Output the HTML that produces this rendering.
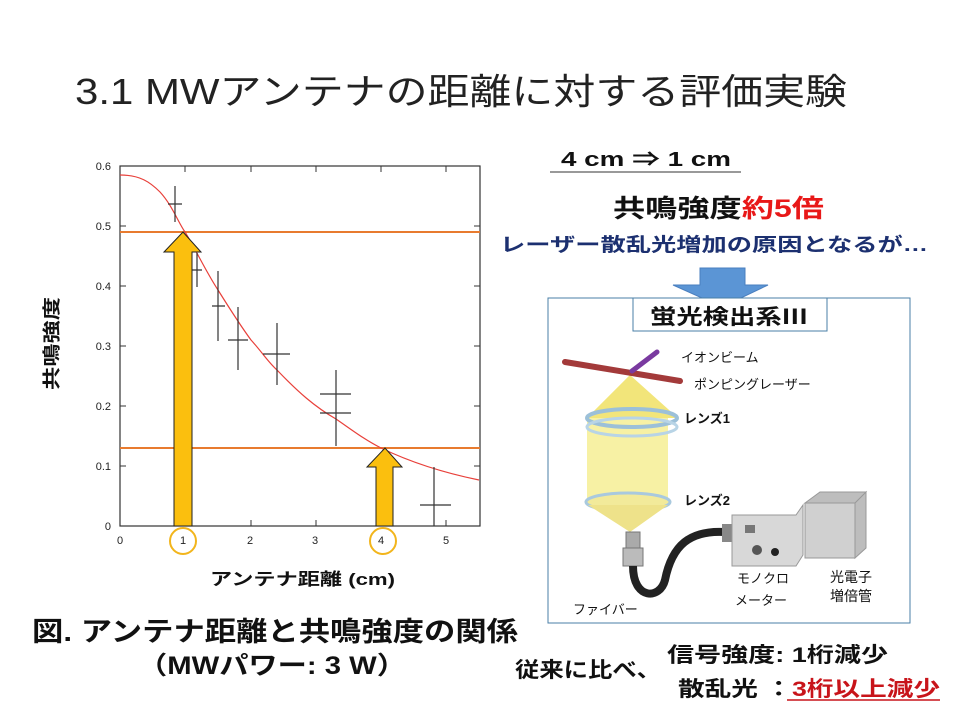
<!DOCTYPE html>
<html><head><meta charset="utf-8"><style>
html,body{margin:0;padding:0;background:#fff}
svg text{font-family:"Liberation Sans","Noto Sans CJK JP",sans-serif}
</style></head><body>
<svg width="960" height="720" viewBox="0 0 960 720" xmlns="http://www.w3.org/2000/svg">
<rect width="960" height="720" fill="#fff"/>
<text x="75" y="104" font-size="36" fill="#222" textLength="772" lengthAdjust="spacingAndGlyphs">3.1  MWアンテナの距離に対する評価実験</text>

<rect x="120" y="166" width="360" height="360" fill="none" stroke="#333" stroke-width="1.2"/>
<g stroke="#333" stroke-width="1">
<path d="M120 226h6M120 286h6M120 346h6M120 406h6M120 466h6M480 226h-6M480 286h-6M480 346h-6M480 406h-6M480 466h-6"/>
<path d="M185 526v-6M251 526v-6M316 526v-6M381 526v-6M446 526v-6M185 166v6M251 166v6M316 166v6M381 166v6M446 166v6"/>
</g>
<g font-size="11" fill="#222" text-anchor="end">
<text x="111" y="170">0.6</text><text x="111" y="230">0.5</text><text x="111" y="290">0.4</text>
<text x="111" y="350">0.3</text><text x="111" y="410">0.2</text><text x="111" y="470">0.1</text><text x="111" y="530">0</text>
</g>
<g font-size="11" fill="#222" text-anchor="middle">
<text x="120" y="544">0</text><text x="183" y="544">1</text><text x="250" y="544">2</text><text x="315" y="544">3</text><text x="381" y="544">4</text><text x="446" y="544">5</text>
</g>
<line x1="120" y1="232" x2="480" y2="232" stroke="#e87b2f" stroke-width="2"/>
<line x1="120" y1="448" x2="480" y2="448" stroke="#e87b2f" stroke-width="2"/>
<path d="M120 175 C140 175 150 182 160 192 C172 205 178 222 185 232 C195 248 205 270 218 290 C228 306 240 325 251 340 C262 352 268 362 277 370 C298 392 315 407 336 419 C352 430 365 440 381 448 C410 462 440 472 479 480" fill="none" stroke="#e8403a" stroke-width="1.2"/>
<g stroke="#333" stroke-width="1.2" fill="none">
<path d="M175 186v36M168 204h14"/>
<path d="M197 253v34M192 270h10"/>
<path d="M218 271v70M212 306h13"/>
<path d="M238 307v63M228 340h20"/>
<path d="M277 323v62M263 354h27"/>
<path d="M336 370v76M320 394h31M320 413h31"/>
<path d="M434 467v59M420 505h31"/>
</g>
<path d="M174 526V252H164L183 232L201 252H192V526Z" fill="#fbbf0e" stroke="#222" stroke-width="1"/>
<path d="M376 526V467H367L385 448L402 467H393V526Z" fill="#fbbf0e" stroke="#222" stroke-width="1"/>
<circle cx="183" cy="541" r="13" fill="none" stroke="#f2b51c" stroke-width="2"/>
<circle cx="383" cy="541" r="13" fill="none" stroke="#f2b51c" stroke-width="2"/>
<text x="210" y="585" font-size="17" font-weight="bold" fill="#111" textLength="185" lengthAdjust="spacingAndGlyphs">アンテナ距離 (cm)</text>
<text transform="translate(58,390) rotate(-90)" font-size="18" font-weight="bold" fill="#111" textLength="93" lengthAdjust="spacingAndGlyphs">共鳴強度</text>

<text x="32" y="641" font-size="27" font-weight="bold" fill="#111" textLength="486" lengthAdjust="spacingAndGlyphs">図. アンテナ距離と共鳴強度の関係</text>
<text x="138" y="674" font-size="25" font-weight="bold" fill="#111" textLength="268" lengthAdjust="spacingAndGlyphs">（MWパワー: 3 W）</text>

<text x="561" y="166" font-size="20" font-weight="bold" fill="#111" textLength="170" lengthAdjust="spacingAndGlyphs">4 cm ⇒ 1 cm</text>
<line x1="550" y1="172" x2="741" y2="172" stroke="#333" stroke-width="1"/>
<text x="613" y="217" font-size="25" font-weight="bold" fill="#111" textLength="211" lengthAdjust="spacingAndGlyphs">共鳴強度<tspan fill="#e81818">約5倍</tspan></text>
<text x="500" y="251" font-size="19" font-weight="bold" fill="#1c3070" textLength="428" lengthAdjust="spacingAndGlyphs">レーザー散乱光増加の原因となるが…</text>
<path d="M700 268H745V285H768L722 307L673 285H700Z" fill="#5b95d5" stroke="#4a7fbf" stroke-width="1"/>

<rect x="548" y="298" width="362" height="325" fill="none" stroke="#4a7fa7" stroke-width="1"/>
<rect x="633" y="298" width="194" height="33" fill="#fff" stroke="#4a7fa7" stroke-width="1"/>
<text x="650" y="324" font-size="21" font-weight="bold" fill="#111" textLength="158" lengthAdjust="spacingAndGlyphs">蛍光検出系Ⅲ</text>

<path d="M630 375L587 418V502L632 523L668 502V418Z" fill="#f6f09a" opacity="0.9"/>
<path d="M630 375L587 418H678Z" fill="#f2e57a"/>
<ellipse cx="632" cy="418" rx="45" ry="9" fill="none" stroke="#9cc0d8" stroke-width="4"/>
<ellipse cx="632" cy="427" rx="45" ry="9" fill="none" stroke="#b8d4e6" stroke-width="3"/>
<ellipse cx="628" cy="502" rx="42" ry="9" fill="#f2ea9a" stroke="#a9c9de" stroke-width="3"/>
<path d="M588 505L630 532L668 505Z" fill="#eee28a"/>
<line x1="565" y1="362" x2="680" y2="381" stroke="#a33a3a" stroke-width="6" stroke-linecap="round"/>
<line x1="632" y1="371" x2="657" y2="352" stroke="#7a3aa0" stroke-width="5" stroke-linecap="round"/>
<rect x="626" y="532" width="14" height="16" fill="#aaa" stroke="#777"/>
<rect x="623" y="548" width="20" height="18" fill="#bbb" stroke="#777"/>
<path d="M633 566 C633 600 660 600 665 580 C672 545 690 530 725 532" fill="none" stroke="#222" stroke-width="8"/>
<rect x="722" y="524" width="12" height="18" fill="#888"/>
<path d="M732 515H796L803 505V555L796 566H732Z" fill="#d8d8d8" stroke="#999"/>
<rect x="745" y="525" width="10" height="8" fill="#777"/>
<circle cx="757" cy="550" r="5" fill="#555"/>
<circle cx="775" cy="552" r="4" fill="#222"/>
<rect x="805" y="503" width="50" height="55" fill="#d0d0d0" stroke="#999"/>
<path d="M805 503L820 492H866L855 503ZM855 503L866 492V548L855 558Z" fill="#bdbdbd" stroke="#999"/>

<g font-size="13" fill="#111">
<text x="681" y="362">イオンビーム</text>
<text x="694" y="389">ポンピングレーザー</text>
<text x="684" y="423" font-weight="bold">レンズ1</text>
<text x="684" y="505" font-weight="bold">レンズ2</text>
<text x="737" y="583">モノクロ</text>
<text x="735" y="605">メーター</text>
<text x="830" y="582" font-size="14">光電子</text>
<text x="830" y="601" font-size="14">増倍管</text>
<text x="573" y="614">ファイバー</text>
</g>

<text x="515" y="677" font-size="21" font-weight="bold" fill="#111" textLength="146" lengthAdjust="spacingAndGlyphs">従来に比べ、</text>
<text x="667" y="662" font-size="21" font-weight="bold" fill="#111" textLength="221" lengthAdjust="spacingAndGlyphs">信号強度: 1桁減少</text>
<text x="678" y="696" font-size="21" font-weight="bold" fill="#111" textLength="262" lengthAdjust="spacingAndGlyphs">散乱光 ：<tspan fill="#c8141a">3桁以上減少</tspan></text>
<line x1="787" y1="700" x2="940" y2="700" stroke="#c8141a" stroke-width="1.5"/>
</svg>
</body></html>
